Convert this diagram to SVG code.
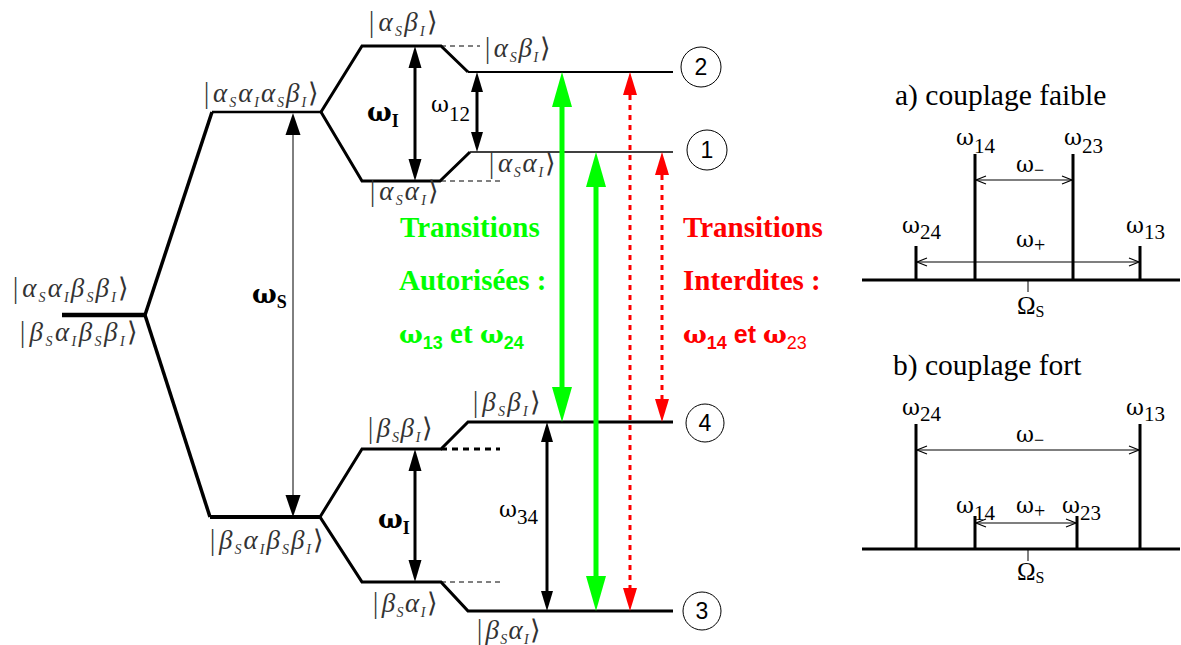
<svg xmlns="http://www.w3.org/2000/svg" width="1181" height="645" viewBox="0 0 1181 645">
<style>
.ket{font-family:"Liberation Serif","DejaVu Serif",serif;font-style:italic;font-size:27px;fill:#333}
.br{font-style:normal;font-family:"DejaVu Sans",sans-serif;font-weight:200;font-size:27px}
.sub{font-size:14px}
.lv{fill:none;stroke:#000;stroke-linejoin:miter}
.lbl{font-family:"Liberation Serif","DejaVu Serif",serif;font-size:21px;fill:#000}
.w{font-family:"DejaVu Serif",serif;font-size:22px}
.bl{font-family:"DejaVu Serif",serif;font-size:26px;font-weight:bold;fill:#000}
.tg{font-family:"Liberation Serif",serif;font-size:29px;font-weight:bold;fill:#00ff00}
.tr{font-family:"Liberation Serif",serif;font-size:29px;font-weight:bold;fill:#ff0000}
.wb{font-family:"DejaVu Serif",serif;font-size:25px}
.sans{font-family:"Liberation Sans",Arial,sans-serif}
.num{font-family:"Liberation Sans",Arial,sans-serif;font-size:23px;fill:#000;text-anchor:middle}
.ttl{font-family:"Liberation Serif",serif;font-size:29.5px;fill:#000}
.sp{fill:none;stroke:#000}
</style>
<defs>
<marker id="hS" markerUnits="userSpaceOnUse" markerWidth="22" markerHeight="15" refX="0" refY="7.5" orient="auto-start-reverse" overflow="visible"><path d="M0,0 L22,7.5 L0,15 z" fill="#000"/></marker>
<marker id="hI" markerUnits="userSpaceOnUse" markerWidth="22" markerHeight="13" refX="0" refY="6.5" orient="auto-start-reverse" overflow="visible"><path d="M0,0 L22,6.5 L0,13 z" fill="#000"/></marker>
<marker id="h12" markerUnits="userSpaceOnUse" markerWidth="20" markerHeight="12" refX="0" refY="6" orient="auto-start-reverse" overflow="visible"><path d="M0,0 L20,6 L0,12 z" fill="#000"/></marker>
<marker id="hG" markerUnits="userSpaceOnUse" markerWidth="35" markerHeight="20" refX="0" refY="10" orient="auto-start-reverse" overflow="visible"><path d="M0,0 L35,10 L0,20 z" fill="#00ff00"/></marker>
<marker id="hR" markerUnits="userSpaceOnUse" markerWidth="23" markerHeight="14" refX="0" refY="7" orient="auto-start-reverse" overflow="visible"><path d="M0,0 L23,7 L0,14 z" fill="#ff0000"/></marker>
<marker id="hO" markerUnits="userSpaceOnUse" markerWidth="10" markerHeight="8" refX="10" refY="4" orient="auto-start-reverse" overflow="visible"><path d="M0,0 L10,4 L0,8" fill="none" stroke="#000" stroke-width="1.2"/></marker>
</defs>

<g id="levels">
<path class="lv" d="M62,315 H145" stroke-width="4.5"/>
<path class="lv" d="M145,315 L212,112" stroke-width="3.5"/>
<path class="lv" d="M145,315 L210,517" stroke-width="3.5"/>
<path class="lv" d="M212,112 H321" stroke-width="2.5"/>
<path class="lv" d="M210,517 H320" stroke-width="4"/>
<path class="lv" d="M321,112 L362,46 H441 L468,72" stroke-width="3"/>
<path class="lv" d="M468,72 H673" stroke-width="2"/>
<path class="lv" d="M321,112 L362,181 H440 L470,152" stroke-width="3"/>
<path class="lv" d="M470,152 H673" stroke-width="1.5" stroke="#555"/>
<path class="lv" d="M320,517 L362,449 H441 L468,422 H673" stroke-width="3"/>
<path class="lv" d="M320,517 L362,582 H441 L468,611 H673" stroke-width="3.2"/>
<path class="lv" d="M441,46 H480" stroke-width="1" stroke-dasharray="5 4"/>
<path class="lv" d="M441,181 H500" stroke-width="1" stroke-dasharray="5 4"/>
<path class="lv" d="M441,449 H500" stroke-width="3" stroke-dasharray="6 5"/>
<path class="lv" d="M441,582 H500" stroke-width="1" stroke-dasharray="5 4"/>
</g>

<g id="kets">
<text class="ket" x="202" y="102" textLength="117"><tspan class="br">|</tspan>α<tspan class="sub" dy="5">S</tspan><tspan dy="-5">α</tspan><tspan class="sub" dy="5">I</tspan><tspan dy="-5">α</tspan><tspan class="sub" dy="5">S</tspan><tspan dy="-5">β</tspan><tspan class="sub" dy="5">I</tspan><tspan class="br" dy="-5">⟩</tspan></text>
<text class="ket" x="367" y="31" textLength="71"><tspan class="br">|</tspan>α<tspan class="sub" dy="5">S</tspan><tspan dy="-5">β</tspan><tspan class="sub" dy="5">I</tspan><tspan class="br" dy="-5">⟩</tspan></text>
<text class="ket" x="483" y="57" textLength="68"><tspan class="br">|</tspan>α<tspan class="sub" dy="5">S</tspan><tspan dy="-5">β</tspan><tspan class="sub" dy="5">I</tspan><tspan class="br" dy="-5">⟩</tspan></text>
<text class="ket" x="487" y="172" textLength="69"><tspan class="br">|</tspan>α<tspan class="sub" dy="5">S</tspan><tspan dy="-5">α</tspan><tspan class="sub" dy="5">I</tspan><tspan class="br" dy="-5">⟩</tspan></text>
<text class="ket" x="368" y="200" textLength="71"><tspan class="br">|</tspan>α<tspan class="sub" dy="5">S</tspan><tspan dy="-5">α</tspan><tspan class="sub" dy="5">I</tspan><tspan class="br" dy="-5">⟩</tspan></text>
<text class="ket" x="11" y="297" textLength="118"><tspan class="br">|</tspan>α<tspan class="sub" dy="5">S</tspan><tspan dy="-5">α</tspan><tspan class="sub" dy="5">I</tspan><tspan dy="-5">β</tspan><tspan class="sub" dy="5">S</tspan><tspan dy="-5">β</tspan><tspan class="sub" dy="5">I</tspan><tspan class="br" dy="-5">⟩</tspan></text>
<text class="ket" x="18" y="341" textLength="120"><tspan class="br">|</tspan>β<tspan class="sub" dy="5">S</tspan><tspan dy="-5">α</tspan><tspan class="sub" dy="5">I</tspan><tspan dy="-5">β</tspan><tspan class="sub" dy="5">S</tspan><tspan dy="-5">β</tspan><tspan class="sub" dy="5">I</tspan><tspan class="br" dy="-5">⟩</tspan></text>
<text class="ket" x="208" y="549" textLength="116"><tspan class="br">|</tspan>β<tspan class="sub" dy="5">S</tspan><tspan dy="-5">α</tspan><tspan class="sub" dy="5">I</tspan><tspan dy="-5">β</tspan><tspan class="sub" dy="5">S</tspan><tspan dy="-5">β</tspan><tspan class="sub" dy="5">I</tspan><tspan class="br" dy="-5">⟩</tspan></text>
<text class="ket" x="366" y="437" textLength="67"><tspan class="br">|</tspan>β<tspan class="sub" dy="5">S</tspan><tspan dy="-5">β</tspan><tspan class="sub" dy="5">I</tspan><tspan class="br" dy="-5">⟩</tspan></text>
<text class="ket" x="471" y="411" textLength="70"><tspan class="br">|</tspan>β<tspan class="sub" dy="5">S</tspan><tspan dy="-5">β</tspan><tspan class="sub" dy="5">I</tspan><tspan class="br" dy="-5">⟩</tspan></text>
<text class="ket" x="371" y="612" textLength="67"><tspan class="br">|</tspan>β<tspan class="sub" dy="5">S</tspan><tspan dy="-5">α</tspan><tspan class="sub" dy="5">I</tspan><tspan class="br" dy="-5">⟩</tspan></text>
<text class="ket" x="475" y="639" textLength="66"><tspan class="br">|</tspan>β<tspan class="sub" dy="5">S</tspan><tspan dy="-5">α</tspan><tspan class="sub" dy="5">I</tspan><tspan class="br" dy="-5">⟩</tspan></text>
</g>

<g id="connectors">
<line x1="293" y1="135" x2="293" y2="495" stroke="#000" stroke-width="1" marker-start="url(#hS)" marker-end="url(#hS)"/>
<line x1="415" y1="68" x2="415" y2="159" stroke="#000" stroke-width="3" marker-start="url(#hI)" marker-end="url(#hI)"/>
<line x1="477" y1="92" x2="477" y2="132" stroke="#000" stroke-width="3" marker-start="url(#h12)" marker-end="url(#h12)"/>
<line x1="415" y1="471" x2="415" y2="560" stroke="#000" stroke-width="3" marker-start="url(#hI)" marker-end="url(#hI)"/>
<line x1="547" y1="442" x2="547" y2="591" stroke="#000" stroke-width="3" marker-start="url(#h12)" marker-end="url(#h12)"/>
<line x1="562" y1="107" x2="562" y2="387" stroke="#00ff00" stroke-width="5" marker-start="url(#hG)" marker-end="url(#hG)"/>
<line x1="596" y1="187" x2="596" y2="576" stroke="#00ff00" stroke-width="5" marker-start="url(#hG)" marker-end="url(#hG)"/>
<line x1="630" y1="95" x2="630" y2="588" stroke="#ff0000" stroke-width="3" stroke-dasharray="5 5" marker-start="url(#hR)" marker-end="url(#hR)"/>
<line x1="662" y1="175" x2="662" y2="399" stroke="#ff0000" stroke-width="3" stroke-dasharray="5 5" marker-start="url(#hR)" marker-end="url(#hR)"/>
</g>

<g id="omega-labels">
<text class="bl" x="252" y="303">ω<tspan font-family="Liberation Serif" font-size="18" dy="5">S</tspan></text>
<text class="bl" x="367" y="121">ω<tspan font-family="Liberation Serif" font-size="18" dy="6">I</tspan></text>
<text class="bl" x="378" y="528">ω<tspan font-family="Liberation Serif" font-size="18" dy="6">I</tspan></text>
<text class="lbl" x="431" y="112"><tspan class="w">ω</tspan><tspan dy="9">12</tspan></text>
<text class="lbl" x="499" y="517"><tspan class="w">ω</tspan><tspan dy="7">34</tspan></text>
</g>

<g id="state-numbers">
<circle cx="701" cy="67" r="20" fill="#fff" stroke="#000" stroke-width="1"/>
<text class="num" x="701" y="75">2</text>
<circle cx="707" cy="150" r="20" fill="#fff" stroke="#000" stroke-width="1"/>
<text class="num" x="707" y="158">1</text>
<circle cx="705" cy="423" r="19" fill="#fff" stroke="#000" stroke-width="1"/>
<text class="num" x="705" y="431">4</text>
<circle cx="702" cy="611" r="19" fill="#fff" stroke="#000" stroke-width="1"/>
<text class="num" x="702" y="619">3</text>
</g>

<g id="allowed">
<text class="tg" x="400" y="237">Transitions</text>
<text class="tg" x="399" y="290">Autorisées :</text>
<text class="tg" x="399" y="343"><tspan class="wb">ω</tspan><tspan class="sans" font-size="18" dy="6">13</tspan><tspan dy="-6"> et </tspan><tspan class="wb">ω</tspan><tspan class="sans" font-size="18" dy="6">24</tspan></text>
</g>
<g id="forbidden">
<text class="tr" x="683" y="237">Transitions</text>
<text class="tr" x="683" y="290">Interdites :</text>
<text class="tr" x="683" y="343"><tspan class="wb">ω</tspan><tspan class="sans" font-size="18" dy="6">14</tspan><tspan class="sans" font-size="25" dy="-6"> et </tspan><tspan class="wb">ω</tspan><tspan class="sans" font-size="18" font-weight="normal" dy="6">23</tspan></text>
</g>

<g id="panel-a">
<text class="ttl" x="895" y="105">a) couplage faible</text>
<path class="sp" d="M862,280 H1180" stroke-width="3"/>
<path class="sp" d="M1028,280 V292" stroke-width="1"/>
<path class="sp" d="M916,246 V280 M975,154 V280 M1073,154 V280 M1140,246 V280" stroke-width="3"/>
<line x1="976" y1="180" x2="1072" y2="180" stroke="#000" stroke-width="1.2" marker-start="url(#hO)" marker-end="url(#hO)"/>
<line x1="917" y1="262" x2="1139" y2="262" stroke="#000" stroke-width="1.2" marker-start="url(#hO)" marker-end="url(#hO)"/>
<text class="lbl" x="956" y="145"><tspan class="w">ω</tspan><tspan dy="8">14</tspan></text>
<text class="lbl" x="1064" y="145"><tspan class="w">ω</tspan><tspan dy="8">23</tspan></text>
<text class="lbl" x="902" y="233"><tspan class="w">ω</tspan><tspan dy="6">24</tspan></text>
<text class="lbl" x="1126" y="233"><tspan class="w">ω</tspan><tspan dy="6">13</tspan></text>
<text class="lbl" x="1016" y="172"><tspan class="w">ω</tspan><tspan font-size="18" dy="4">−</tspan></text>
<text class="lbl" x="1016" y="247"><tspan class="w">ω</tspan><tspan font-size="20" dy="5">+</tspan></text>
<text class="lbl" x="1017" y="314"><tspan font-size="25">Ω</tspan><tspan font-size="16" dy="3">S</tspan></text>
</g>

<g id="panel-b">
<text class="ttl" x="893" y="375">b) couplage fort</text>
<path class="sp" d="M862,549 H1180" stroke-width="3"/>
<path class="sp" d="M1028,549 V561" stroke-width="1"/>
<path class="sp" d="M916,424 V549 M1140,424 V549 M975,516 V549 M1077,516 V549" stroke-width="3"/>
<line x1="917" y1="450" x2="1139" y2="450" stroke="#000" stroke-width="1.2" marker-start="url(#hO)" marker-end="url(#hO)"/>
<line x1="976" y1="523" x2="1076" y2="523" stroke="#000" stroke-width="1.2" marker-start="url(#hO)" marker-end="url(#hO)"/>
<text class="lbl" x="902" y="415"><tspan class="w">ω</tspan><tspan dy="6">24</tspan></text>
<text class="lbl" x="1126" y="415"><tspan class="w">ω</tspan><tspan dy="6">13</tspan></text>
<text class="lbl" x="1016" y="442"><tspan class="w">ω</tspan><tspan font-size="18" dy="4">−</tspan></text>
<text class="lbl" x="956" y="513"><tspan class="w">ω</tspan><tspan dy="7">14</tspan></text>
<text class="lbl" x="1016" y="513"><tspan class="w">ω</tspan><tspan font-size="20" dy="5">+</tspan></text>
<text class="lbl" x="1062" y="513"><tspan class="w">ω</tspan><tspan dy="7">23</tspan></text>
<text class="lbl" x="1017" y="580"><tspan font-size="25">Ω</tspan><tspan font-size="16" dy="3">S</tspan></text>
</g>
</svg>
